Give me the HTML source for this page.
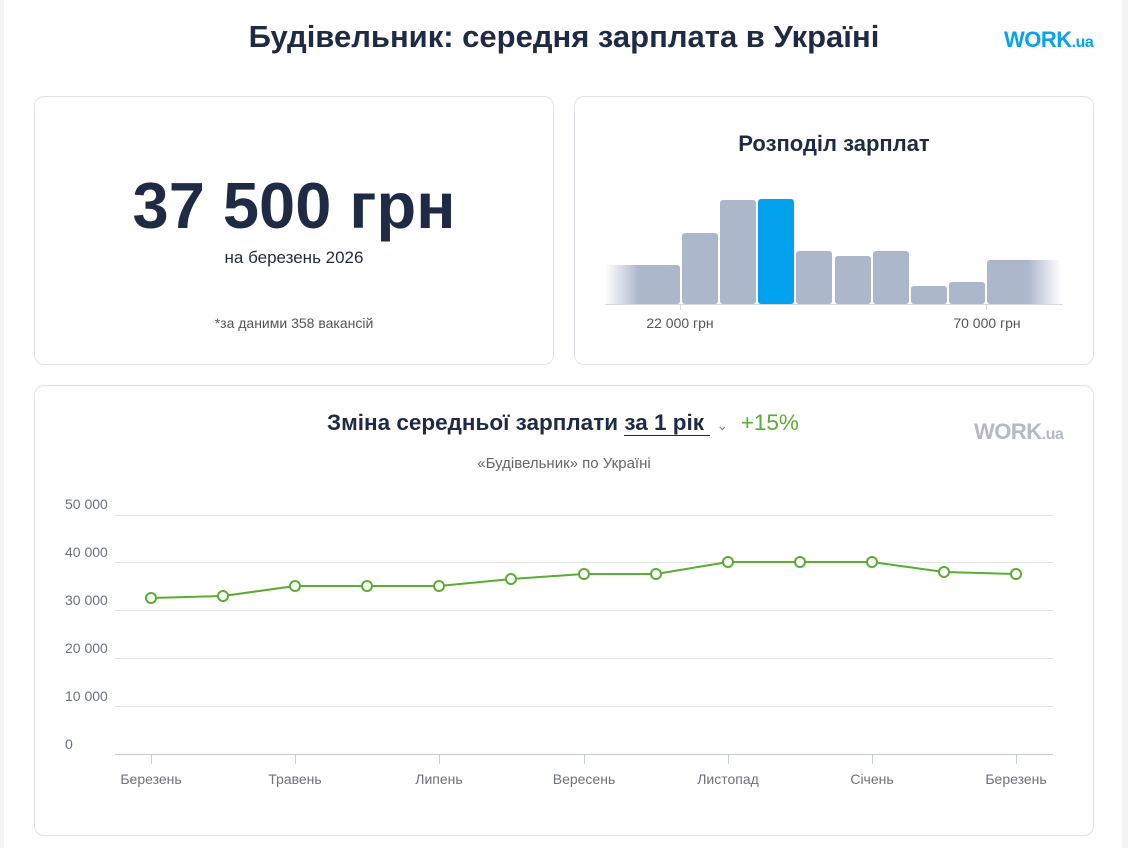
<!DOCTYPE html>
<html><head><meta charset="utf-8"><style>
body{margin:0;width:1128px;height:848px;background:#f3f4f6;font-family:"Liberation Sans","DejaVu Sans",sans-serif;position:relative;overflow:hidden}
.page{position:absolute;left:4px;top:0;width:1118px;height:848px;background:#fff}
.card{position:absolute;border:1px solid #e1e3e8;border-radius:10px;background:#fff}
.t{position:absolute;white-space:nowrap}
</style></head><body>
<div class="page"></div>
<div class="t" style="left:0;width:1128px;top:19px;text-align:center;font-size:31px;font-weight:bold;color:#1f2a44">Будівельник: середня зарплата в Україні</div>
<div class="t" style="left:1004px;top:27px;font-size:22px;font-weight:bold;color:#09a2ef;letter-spacing:-0.5px">WORK<span style="font-size:16px">.ua</span></div>
<div class="card" style="left:34px;top:96px;width:518px;height:267px"></div>
<div class="t" style="left:34px;width:520px;top:168px;text-align:center;font-size:65px;font-weight:bold;color:#1f2a44">37 500 грн</div>
<div class="t" style="left:34px;width:520px;top:248px;text-align:center;font-size:17px;color:#1f2a44">на березень 2026</div>
<div class="t" style="left:34px;width:520px;top:315px;text-align:center;font-size:14px;color:#555">*за даними 358 вакансій</div>
<div class="card" style="left:574px;top:96px;width:518px;height:267px"></div>
<div class="t" style="left:574px;width:520px;top:131px;text-align:center;font-size:22px;font-weight:bold;color:#1f2a44">Розподіл зарплат</div>
<svg style="position:absolute;left:0;top:0" width="1128" height="848">
<defs>
<linearGradient id="gl" x1="0" x2="1"><stop offset="0" stop-color="#adb7cb" stop-opacity="0"/><stop offset="0.45" stop-color="#adb7cb"/></linearGradient>
<linearGradient id="gr" x1="0" x2="1"><stop offset="0.55" stop-color="#adb7cb"/><stop offset="1" stop-color="#adb7cb" stop-opacity="0"/></linearGradient>
</defs>
<rect x="605" y="265" width="75" height="39" rx="3" fill="url(#gl)"/>
<rect x="682" y="233" width="36" height="71" rx="3" fill="#adb7cb"/>
<rect x="720" y="200" width="36" height="104" rx="3" fill="#adb7cb"/>
<rect x="758" y="199" width="36" height="105" rx="3" fill="#02a2ef"/>
<rect x="796" y="251" width="36" height="53" rx="3" fill="#adb7cb"/>
<rect x="835" y="256" width="36" height="48" rx="3" fill="#adb7cb"/>
<rect x="873" y="251" width="36" height="53" rx="3" fill="#adb7cb"/>
<rect x="911" y="286" width="36" height="18" rx="3" fill="#adb7cb"/>
<rect x="949" y="282" width="36" height="22" rx="3" fill="#adb7cb"/>
<rect x="987" y="260" width="74" height="44" rx="3" fill="url(#gr)"/>
<line x1="605" y1="304.5" x2="1063" y2="304.5" stroke="#d5d8e0"/>
<line x1="680.5" y1="304" x2="680.5" y2="310" stroke="#d5d8e0"/>
<line x1="986.5" y1="304" x2="986.5" y2="310" stroke="#d5d8e0"/>
<text x="680" y="328" text-anchor="middle" font-size="14" fill="#555" font-family="Liberation Sans">22 000 грн</text>
<text x="987" y="328" text-anchor="middle" font-size="14" fill="#555" font-family="Liberation Sans">70 000 грн</text>
</svg>
<div class="card" style="left:34px;top:385px;width:1058px;height:449px"></div>
<div class="t" style="left:327px;top:410px;font-size:22.5px;font-weight:bold;color:#1f2a44">Зміна середньої зарплати <span style="border-bottom:1.5px solid #1f2a44">за 1 рік&nbsp;</span> <span style="font-size:14px;color:#888;font-weight:normal">&#8964;</span> &nbsp;<span style="color:#5aad32;font-weight:normal">+15%</span></div>
<div class="t" style="left:974px;top:419px;font-size:22px;font-weight:bold;color:#b3b9c5;letter-spacing:-0.5px">WORK<span style="font-size:16px">.ua</span></div>
<div class="t" style="left:0;width:1128px;top:455px;text-align:center;font-size:15px;color:#666">«Будівельник» по Україні</div>
<svg style="position:absolute;left:0;top:0" width="1128" height="848" font-family="Liberation Sans" font-size="14" fill="#6b7280">
<g stroke="#e3e5e9"><line x1="115" x2="1053" y1="515.5" y2="515.5"/><line x1="115" x2="1053" y1="562.5" y2="562.5"/><line x1="115" x2="1053" y1="610.5" y2="610.5"/><line x1="115" x2="1053" y1="658.5" y2="658.5"/><line x1="115" x2="1053" y1="706.5" y2="706.5"/></g>
<line x1="115" x2="1053" y1="754.5" y2="754.5" stroke="#c9ced8"/>
<g stroke="#c9ced8"><line x1="151.5" x2="151.5" y1="754" y2="764"/><line x1="295.5" x2="295.5" y1="754" y2="764"/><line x1="439.5" x2="439.5" y1="754" y2="764"/><line x1="584.5" x2="584.5" y1="754" y2="764"/><line x1="728.5" x2="728.5" y1="754" y2="764"/><line x1="872.5" x2="872.5" y1="754" y2="764"/><line x1="1016.5" x2="1016.5" y1="754" y2="764"/></g>
<g><text x="65" y="509">50 000</text><text x="65" y="557">40 000</text><text x="65" y="605">30 000</text><text x="65" y="653">20 000</text><text x="65" y="701">10 000</text><text x="65" y="749">0</text></g>
<g text-anchor="middle"><text x="151" y="784">Березень</text><text x="295" y="784">Травень</text><text x="439" y="784">Липень</text><text x="584" y="784">Вересень</text><text x="728" y="784">Листопад</text><text x="872" y="784">Січень</text><text x="1016" y="784">Березень</text></g>
<polyline fill="none" stroke="#5aad32" stroke-width="2" points="151,598 223,596 295,586 367,586 439,586 511,579 584,574 656,574 728,562 800,562 872,562 944,572 1016,574"/>
<g fill="#fff" stroke="#5aad32" stroke-width="2"><circle cx="151" cy="598" r="5"/><circle cx="223" cy="596" r="5"/><circle cx="295" cy="586" r="5"/><circle cx="367" cy="586" r="5"/><circle cx="439" cy="586" r="5"/><circle cx="511" cy="579" r="5"/><circle cx="584" cy="574" r="5"/><circle cx="656" cy="574" r="5"/><circle cx="728" cy="562" r="5"/><circle cx="800" cy="562" r="5"/><circle cx="872" cy="562" r="5"/><circle cx="944" cy="572" r="5"/><circle cx="1016" cy="574" r="5"/></g>
</svg>
</body></html>
